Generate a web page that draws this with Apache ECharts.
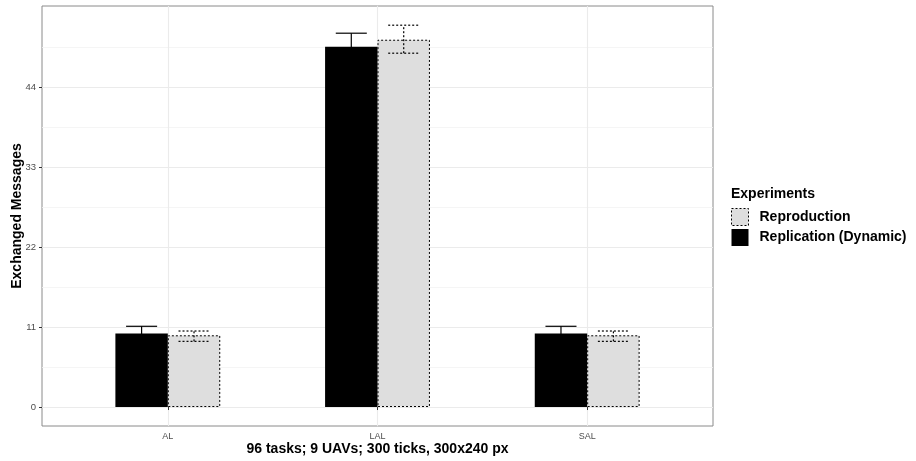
<!DOCTYPE html>
<html>
<head>
<meta charset="utf-8">
<script src="https://cdn.jsdelivr.net/npm/echarts@6/dist/echarts.min.js"></script>
<style>
html,body{margin:0;padding:0;background:#fff;}
#chart{width:916px;height:461px;}
</style>
</head>
<body>
<div id="chart"></div>
<script>
const categories = ['AL', 'LAL', 'SAL'];
const replicationMean = [10.1, 49.55, 10.1];
const replicationLow = [9.1, 47.7, 9.1];
const replicationHigh = [11.1, 51.4, 11.1];
const reproductionMean = [9.86, 50.5, 9.86];
const reproductionLow = [9.03, 48.65, 9.03];
const reproductionHigh = [10.45, 52.5, 10.45];
const yTicks = [0, 11, 22, 33, 44];
const yMinorGrid = [5.5, 16.5, 27.5, 38.5, 49.5];

const FONT = '"Liberation Sans", Arial, Helvetica, sans-serif';
// categories sit at positions 1..n on a continuous axis (like ggplot's discrete scale)
const catPos = categories.map((c, i) => i + 1);

function errRender(offset, dashed) {
  return function (params, api) {
    const xv = api.value(0);
    const lo = api.coord([xv, api.value(1)]);
    const hi = api.coord([xv, api.value(2)]);
    const band = api.size([1, 0])[0];
    const x = lo[0] + offset * band;
    const half = 0.074 * band;
    const style = {
      stroke: '#000',
      lineWidth: 1.2,
      lineDash: dashed ? [2, 2] : null
    };
    return {
      type: 'group',
      children: [
        {type: 'line', shape: {x1: x, y1: lo[1], x2: x, y2: hi[1]}, style: style},
        {type: 'line', shape: {x1: x - half, y1: hi[1], x2: x + half, y2: hi[1]}, style: style},
        {type: 'line', shape: {x1: x - half, y1: lo[1], x2: x + half, y2: lo[1]}, style: style}
      ]
    };
  };
}

const gridLines = []
  .concat(yTicks.map(v => ({yAxis: v, lineStyle: {color: '#EBEBEB', width: 1.1, type: 'solid'}})))
  .concat(yMinorGrid.map(v => ({yAxis: v, lineStyle: {color: '#F3F3F3', width: 0.8, type: 'solid'}})))
  .concat(catPos.map(p => ({xAxis: p, lineStyle: {color: '#EBEBEB', width: 1.1, type: 'solid'}})));

const chart = echarts.init(document.getElementById('chart'), null, {renderer: 'canvas'});
chart.setOption({
  animation: false,
  backgroundColor: '#fff',
  textStyle: {fontFamily: FONT},
  title: [{
    text: 'Experiments',
    left: 731, top: 187,
    padding: 0,
    textStyle: {fontFamily: FONT, fontSize: 14, fontWeight: 'bold', color: '#000'}
  }],
  legend: {
    orient: 'vertical',
    left: 731, top: 208,
    padding: 0,
    itemWidth: 17, itemHeight: 17, itemGap: 3,
    selectedMode: false,
    textStyle: {fontFamily: FONT, fontSize: 14, fontWeight: 'bold', color: '#000', padding: [0, 0, 0, 6]},
    data: [
      {name: 'Reproduction', icon: 'rect', itemStyle: {color: '#DEDEDE', borderColor: '#000', borderWidth: 1, borderType: [2, 2]}},
      {name: 'Replication (Dynamic)', icon: 'rect', itemStyle: {color: '#000', borderColor: '#000', borderWidth: 0}}
    ]
  },
  grid: {
    left: 42, right: 203, top: 6, bottom: 35,
    outerBoundsMode: 'none',
    containLabel: false,
    show: true, borderColor: '#8a8a8a', borderWidth: 1, backgroundColor: 'transparent'
  },
  xAxis: {
    type: 'value',
    min: 0.4, max: 3.6,
    axisLine: {show: false},
    axisTick: {show: true, length: 3, customValues: catPos, lineStyle: {color: '#333'}},
    axisLabel: {
      fontFamily: FONT, fontSize: 9, color: '#4d4d4d', margin: 6, customValues: catPos,
      formatter: v => categories[Math.round(v) - 1] || ''
    },
    splitLine: {show: false},
    name: '96 tasks; 9 UAVs; 300 ticks, 300x240 px',
    nameLocation: 'middle',
    nameGap: 16,
    nameMoveOverlap: false,
    nameTextStyle: {fontFamily: FONT, fontSize: 14, fontWeight: 'bold', color: '#000'}
  },
  yAxis: {
    type: 'value',
    min: -2.61, max: 55.14,
    axisLine: {show: false},
    axisTick: {show: true, length: 3, customValues: yTicks, lineStyle: {color: '#333'}},
    axisLabel: {fontFamily: FONT, fontSize: 9.5, color: '#4d4d4d', margin: 6, customValues: yTicks},
    splitLine: {show: false},
    name: 'Exchanged Messages',
    nameLocation: 'middle',
    nameGap: 18,
    nameMoveOverlap: false,
    nameTextStyle: {fontFamily: FONT, fontSize: 14, fontWeight: 'bold', color: '#000'}
  },
  series: [
    {
      name: 'gridlines',
      type: 'line',
      data: [],
      z: 0,
      silent: true,
      markLine: {silent: true, z: 0, symbol: 'none', label: {show: false}, animation: false, data: gridLines}
    },
    {
      name: 'Replication (Dynamic)',
      type: 'bar',
      data: catPos.map((p, i) => [p, replicationMean[i]]),
      barWidth: '25%',
      barGap: '0%',
      z: 3,
      itemStyle: {color: '#000'}
    },
    {
      name: 'Reproduction',
      type: 'bar',
      data: catPos.map((p, i) => [p, reproductionMean[i]]),
      barWidth: '25%',
      barGap: '0%',
      z: 3,
      itemStyle: {color: '#DEDEDE', borderColor: '#000', borderWidth: 1, borderType: [2, 2]}
    },
    {
      name: 'errReplication',
      type: 'custom',
      z: 5,
      silent: true,
      renderItem: errRender(-0.125, false),
      data: catPos.map((p, i) => [p, replicationLow[i], replicationHigh[i]])
    },
    {
      name: 'errReproduction',
      type: 'custom',
      z: 5,
      silent: true,
      renderItem: errRender(0.125, true),
      data: catPos.map((p, i) => [p, reproductionLow[i], reproductionHigh[i]])
    }
  ]
});
</script>
</body>
</html>
